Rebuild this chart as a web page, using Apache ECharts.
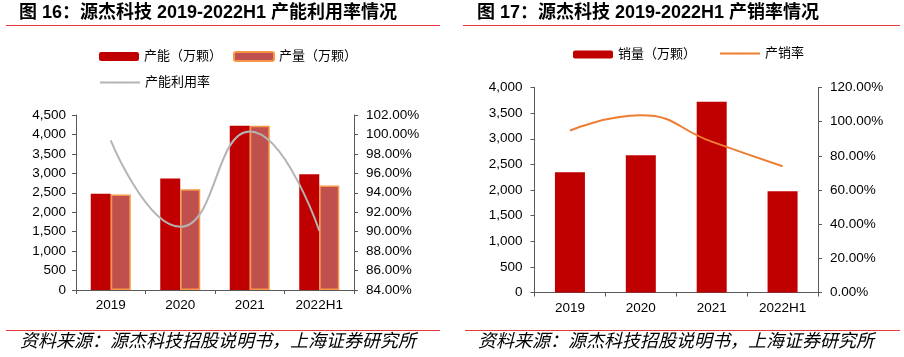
<!DOCTYPE html>
<html><head><meta charset="utf-8">
<script src="https://cdn.jsdelivr.net/npm/echarts@6/dist/echarts.min.js"></script>
<style>html,body{margin:0;padding:0;background:#fff}#c{width:904px;height:357px}</style>
</head><body><div id="c"></div>
<script>
const categories = ['2019', '2020', '2021', '2022H1'];
const capacity = [2475, 2870, 4225, 2975];
const production = [2455, 2590, 4225, 2685];
const utilization = [99.4, 90.5, 100.3, 90.1];
const sales = [2346, 2677, 3721, 1976];
const salesRate = [94.8, 103.7, 88.3, 73.9];

const titleLeft = '图 16：源杰科技 2019-2022H1 产能利用率情况';
const titleRight = '图 17：源杰科技 2019-2022H1 产销率情况';
const sourceText = '资料来源：源杰科技招股说明书，上海证券研究所';

const latin = '"Liberation Sans", Arial, "Noto Sans CJK SC", sans-serif';
const cjk = '"Liberation Sans", "Noto Sans CJK SC", sans-serif';
const axisColor = '#595959';
const red = '#E8383D';

function yAxisCfg(grid, min, max, interval, fmt, pos, margin) {
  return {
    type: 'value', gridIndex: grid, min: min, max: max, interval: interval, position: pos,
    axisLine: {show: true, lineStyle: {color: axisColor, width: 1}},
    axisTick: {show: true, length: 4, lineStyle: {color: axisColor}},
    splitLine: {show: false},
    axisLabel: {formatter: fmt, color: '#000', fontFamily: latin, fontSize: 13.5, margin: margin}
  };
}
function xAxisCfg(grid) {
  return {
    type: 'category', gridIndex: grid, data: categories,
    axisLine: {lineStyle: {color: axisColor, width: 1}},
    axisTick: {show: true, length: 4, lineStyle: {color: axisColor}},
    axisLabel: {color: '#000', fontFamily: latin, fontSize: 13.5, margin: 9}
  };
}
const thousands = v => v.toLocaleString('en-US');
const pct = v => v.toFixed(2) + '%';

const chart = echarts.init(document.getElementById('c'), null, {renderer: 'canvas'});
chart.setOption({
  animation: false,
  grid: [
    {left: 76, top: 115, width: 278, height: 175},
    {left: 534.5, top: 87.5, width: 283.5, height: 205}
  ],
  xAxis: [xAxisCfg(0), xAxisCfg(1)],
  yAxis: [
    yAxisCfg(0, 0, 4500, 500, thousands, 'left', 10),
    yAxisCfg(0, 84, 102, 2, pct, 'right', 12),
    yAxisCfg(1, 0, 4000, 500, thousands, 'left', 12),
    yAxisCfg(1, 0, 120, 20, pct, 'right', 12)
  ],
  legend: [
    {left: 99, top: 50, itemWidth: 40, itemHeight: 9, itemGap: 11, padding: 0,
     textStyle: {fontFamily: cjk, fontSize: 13, color: '#000'},
     data: ['产能（万颗）', '产量（万颗）']},
    {left: 99, top: 76, itemWidth: 40, itemHeight: 2, padding: 0,
     textStyle: {fontFamily: cjk, fontSize: 13, color: '#000'},
     data: ['产能利用率']},
    {left: 573, top: 48, itemWidth: 40, itemHeight: 8, padding: 0,
     textStyle: {fontFamily: cjk, fontSize: 13, color: '#000'},
     data: ['销量（万颗）']},
    {left: 719, top: 47, itemWidth: 40, itemHeight: 2, padding: 0,
     textStyle: {fontFamily: cjk, fontSize: 13, color: '#000'},
     data: ['产销率']}
  ],
  series: [
    {name: '产能（万颗）', type: 'bar', xAxisIndex: 0, yAxisIndex: 0, data: capacity,
     barWidth: 20, barGap: '0%', itemStyle: {color: '#C00000'}},
    {name: '产量（万颗）', type: 'bar', xAxisIndex: 0, yAxisIndex: 0, data: production,
     barWidth: 20, barGap: '0%', itemStyle: {color: '#C0504D', borderColor: '#F79646', borderWidth: 1.5}},
    {name: '产能利用率', type: 'line', xAxisIndex: 0, yAxisIndex: 1, data: utilization,
     smooth: 0.5, showSymbol: false, symbol: 'none', lineStyle: {color: '#B4B4B4', width: 2},
     itemStyle: {color: '#B4B4B4'}},
    {name: '销量（万颗）', type: 'bar', xAxisIndex: 1, yAxisIndex: 2, data: sales,
     barWidth: 30, itemStyle: {color: '#C00000'}},
    {name: '产销率', type: 'line', xAxisIndex: 1, yAxisIndex: 3, data: salesRate,
     smooth: 0.5, showSymbol: false, symbol: 'none', lineStyle: {color: '#ED7D31', width: 2},
     itemStyle: {color: '#ED7D31'}}
  ],
  graphic: [
    {type: 'text', left: 19, top: 4, style: {text: titleLeft, fontFamily: cjk, fontSize: 18, fontWeight: 'bold', fill: '#000'}},
    {type: 'text', left: 477, top: 4, style: {text: titleRight, fontFamily: cjk, fontSize: 18, fontWeight: 'bold', fill: '#000'}},
    {type: 'line', shape: {x1: 6, y1: 25.5, x2: 440, y2: 25.5}, style: {stroke: red, lineWidth: 1}},
    {type: 'line', shape: {x1: 463, y1: 25.5, x2: 900, y2: 25.5}, style: {stroke: red, lineWidth: 1}},
    {type: 'line', shape: {x1: 6, y1: 330.5, x2: 440, y2: 330.5}, style: {stroke: red, lineWidth: 1}},
    {type: 'line', shape: {x1: 465, y1: 330.5, x2: 900, y2: 330.5}, style: {stroke: red, lineWidth: 1}},
    {type: 'text', left: 20, top: 333, style: {text: sourceText, fontFamily: cjk, fontSize: 18, fontStyle: 'italic', fill: '#000'}},
    {type: 'text', left: 478, top: 333, style: {text: sourceText, fontFamily: cjk, fontSize: 18, fontStyle: 'italic', fill: '#000'}}
  ]
});
</script></body></html>
